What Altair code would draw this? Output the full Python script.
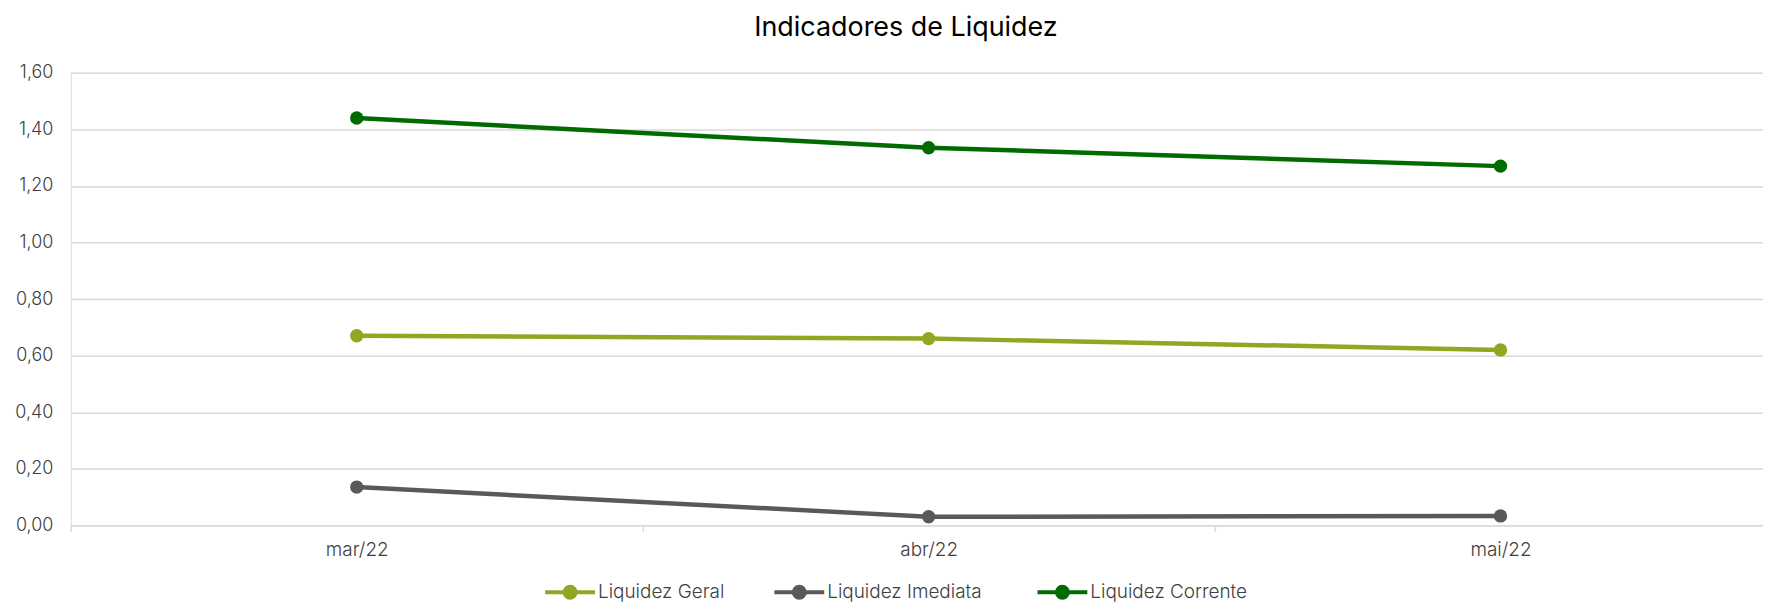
import json
import altair as alt
import pandas as pd

# ---- data ----
months = ["mar/22", "abr/22", "mai/22"]
series_names = ["Liquidez Geral", "Liquidez  Imediata", "Liquidez Corrente"]
geral = [0.67, 0.66, 0.62]
imediata = [0.135, 0.03, 0.033]
corrente = [1.44, 1.335, 1.27]
series_colors = ["#8ea822", "#595959", "#006b00"]
y_ticks = [0.0, 0.2, 0.4, 0.6, 0.8, 1.0, 1.2, 1.4, 1.6]
title_text = "Indicadores de Liquidez"

rows = []
for name, vals in zip(series_names, [geral, imediata, corrente]):
    for i, (m, v) in enumerate(zip(months, vals)):
        rows.append({"serie": name, "idx": i, "mes": m, "valor": v})
df = pd.DataFrame(rows)

FONT = "Inter"
LABEL_COLOR = "#404040"
GRID = "#d9d9d9"

n = len(months)
x_domain = [-0.5, n - 0.541]
x_values = [k / 2 for k in range(-1, 2 * n - 1)]
label_expr = json.dumps(months) + "[datum.value] || ''"

x_enc = alt.X(
    "idx:Q",
    scale=alt.Scale(domain=x_domain, nice=False, zero=False),
    axis=alt.Axis(
        title=None,
        values=x_values,
        labelExpr=label_expr,
        grid=False,
        domainColor=GRID,
        domainWidth=1.5,
        tickColor=GRID,
        tickWidth=1.5,
        tickSize=6,
        tickOpacity={"condition": {"test": "datum.value % 1 == 0", "value": 0}, "value": 1},
        labelPadding=9,
        labelFont=FONT,
        labelFontSize=19,
        labelFontWeight=300,
        labelColor=LABEL_COLOR,
        labelFlush=False,
        labelBound=False,
        labelOverlap=False,
    ),
)
y_enc = alt.Y(
    "valor:Q",
    scale=alt.Scale(domain=[0, 1.6], nice=False),
    axis=alt.Axis(
        title=None,
        values=y_ticks,
        labelExpr="replace(format(datum.value, '.2f'), '.', ',')",
        grid=True,
        gridColor=GRID,
        gridWidth=1.5,
        domain=False,
        ticks=False,
        labelPadding=18,
        labelFont=FONT,
        labelFontSize=18,
        labelFontWeight=300,
        labelColor=LABEL_COLOR,
    ),
)

legend_path = "M-2.5,0L2.5,0M-0.55,0A0.55,0.55,0,1,1,0.55,0A0.55,0.55,0,1,1,-0.55,0Z"
color_enc = alt.Color(
    "serie:N",
    scale=alt.Scale(domain=series_names, range=series_colors),
    sort=series_names,
    legend=alt.Legend(
        title=None,
        orient="none",
        direction="horizontal",
        legendX=489,
        legendY=509,
        symbolType=legend_path,
        symbolSize=400,
        symbolStrokeWidth=4,
        labelOffset=16,
        labelLimit=400,
        columnPadding=42,
        labelFont=FONT,
        labelFontSize=19,
        labelFontWeight=300,
        labelColor=LABEL_COLOR,
    ),
)

base = alt.Chart(df)
lines = base.mark_line(strokeWidth=4.5).encode(x=x_enc, y=y_enc, color=color_enc)
points = base.mark_circle(size=180, opacity=1).encode(x=x_enc, y=y_enc, color=color_enc)

chart = (
    alt.layer(lines, points)
    .properties(
        width=1698,
        height=454,
        title=alt.TitleParams(
            title_text,
            font=FONT,
            fontSize=27,
            fontWeight="normal",
            color="#000000",
            anchor="middle",
            dx=-11,
            offset=22,
        ),
        autosize=alt.AutoSizeParams(type="none"),
        padding={"left": 63, "top": 64, "right": 0, "bottom": 78},
    )
    .configure_view(stroke=None)
    .configure(background="white")
)

chart.save("out.html", embed_options={"renderer": "svg", "actions": False})
